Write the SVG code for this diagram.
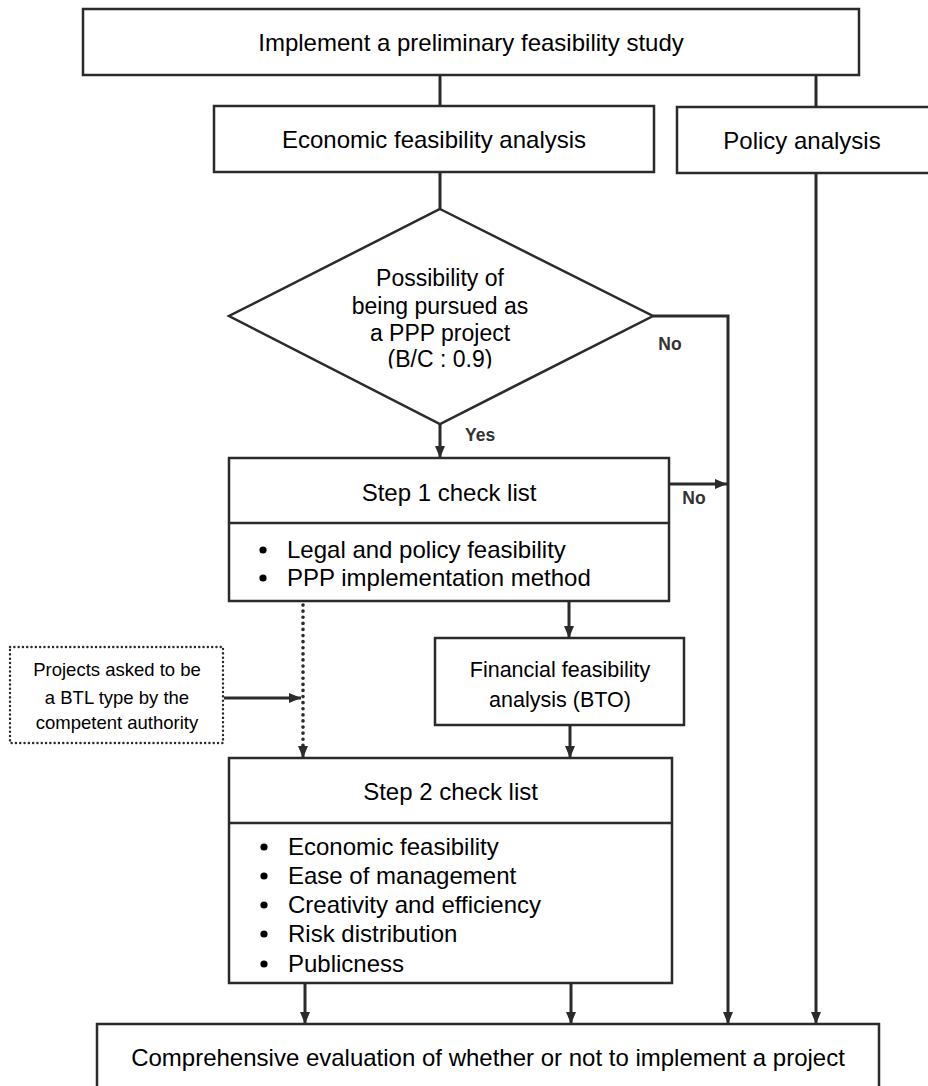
<svg xmlns="http://www.w3.org/2000/svg" width="928" height="1086" viewBox="0 0 928 1086">
<style>
.box{fill:#fff;stroke:#2b2b2b;stroke-width:2.5}
.dbox{fill:#fff;stroke:#2b2b2b;stroke-width:2.4;stroke-dasharray:0.1 4.2;stroke-linecap:round}
.t{font-family:"Liberation Sans",Arial,sans-serif;font-size:24px;fill:#000}
.c{text-anchor:middle}
.dt{font-size:23px}
.ft{font-size:21.5px}
.st{font-size:18.5px}
.lab{font-family:"Liberation Sans",Arial,sans-serif;font-size:17.5px;font-weight:bold;fill:#333}
.ln{fill:none;stroke:#2b2b2b;stroke-width:3}
.dl{fill:none;stroke:#2b2b2b;stroke-width:3.6;stroke-dasharray:0.1 6;stroke-linecap:round}
.bul{fill:#000}
</style>
<defs>
<marker id="ah" markerUnits="userSpaceOnUse" markerWidth="13" markerHeight="11" refX="12" refY="5" orient="auto">
<path d="M0,0 L12,5 L0,10 z" fill="#2b2b2b"/>
</marker>
<clipPath id="dclip"><rect x="0" y="0" width="928" height="368.5"/></clipPath>
</defs>

<g id="connectors">
<line class="ln" x1="440" y1="75" x2="440" y2="106"/>
<line class="ln" x1="816" y1="75" x2="816" y2="107"/>
<line class="ln" x1="440" y1="172" x2="440" y2="209"/>
<line class="ln" x1="440" y1="424" x2="440" y2="458" marker-end="url(#ah)"/>
<polyline class="ln" points="653,316 728,316 728,1024" marker-end="url(#ah)"/>
<line class="ln" x1="669" y1="484" x2="727" y2="484" marker-end="url(#ah)"/>
<line class="ln" x1="816" y1="173" x2="816" y2="1024" marker-end="url(#ah)"/>
<line class="ln" x1="569" y1="601" x2="569" y2="638" marker-end="url(#ah)"/>
<line class="ln" x1="570" y1="725" x2="570" y2="758" marker-end="url(#ah)"/>
<line class="dl" x1="303" y1="605" x2="303" y2="746"/>
<line class="ln" x1="303" y1="748" x2="303" y2="758" marker-end="url(#ah)"/>
<line class="ln" x1="224" y1="698" x2="301" y2="698" marker-end="url(#ah)"/>
<line class="ln" x1="305" y1="983" x2="305" y2="1024" marker-end="url(#ah)"/>
<line class="ln" x1="571" y1="983" x2="571" y2="1024" marker-end="url(#ah)"/>
<text class="lab" x="465" y="441">Yes</text>
<text class="lab" x="670" y="350" text-anchor="middle">No</text>
<text class="lab" x="694" y="504" text-anchor="middle">No</text>
</g>

<g id="n-prelim">
<rect class="box" x="83" y="9" width="776" height="66"/>
<text class="t c" x="471" y="51">Implement a preliminary feasibility study</text>
</g>

<g id="n-economic">
<rect class="box" x="214" y="106" width="440" height="66"/>
<text class="t c" x="434" y="147.6">Economic feasibility analysis</text>
</g>

<g id="n-policy">
<rect class="box" x="677" y="107" width="260" height="66"/>
<text class="t c" x="802" y="148.6">Policy analysis</text>
</g>

<g id="n-decision">
<polygon class="box" points="440,209 653,316 440,424 229,316"/>
<g clip-path="url(#dclip)">
<text class="t c dt" x="440" y="286.2">Possibility of</text>
<text class="t c dt" x="440" y="314.2">being pursued as</text>
<text class="t c dt" x="440" y="341.2">a PPP project</text>
<text class="t c dt" x="440" y="367.2">(B/C : 0.9)</text>
</g>
</g>

<g id="n-step1">
<rect class="box" x="229" y="458" width="440" height="143"/>
<line class="box" x1="229" y1="523" x2="669" y2="523"/>
<text class="t c" x="449" y="500.6">Step 1 check list</text>
<circle class="bul" cx="263" cy="550" r="3.6"/>
<text class="t" x="287" y="557.6">Legal and policy feasibility</text>
<circle class="bul" cx="263" cy="578" r="3.6"/>
<text class="t" x="287" y="585.6">PPP implementation method</text>
</g>

<g id="n-financial">
<rect class="box" x="435" y="638" width="249" height="87"/>
<text class="t c ft" x="560" y="676.7">Financial feasibility</text>
<text class="t c ft" x="560" y="706.7">analysis (BTO)</text>
</g>

<g id="n-btl">
<rect class="dbox" x="10" y="647" width="213" height="96"/>
<text class="t c st" x="117" y="675.6">Projects asked to be</text>
<text class="t c st" x="117" y="703.6">a BTL type by the</text>
<text class="t c st" x="117" y="728.6">competent authority</text>
</g>

<g id="n-step2">
<rect class="box" x="229" y="758" width="443" height="225"/>
<line class="box" x1="229" y1="823" x2="672" y2="823"/>
<text class="t c" x="450.5" y="799.6">Step 2 check list</text>
<circle class="bul" cx="264" cy="847" r="3.6"/>
<text class="t" x="288" y="854.6">Economic feasibility</text>
<circle class="bul" cx="264" cy="876" r="3.6"/>
<text class="t" x="288" y="883.6">Ease of management</text>
<circle class="bul" cx="264" cy="905" r="3.6"/>
<text class="t" x="288" y="912.6">Creativity and efficiency</text>
<circle class="bul" cx="264" cy="934" r="3.6"/>
<text class="t" x="288" y="941.6">Risk distribution</text>
<circle class="bul" cx="264" cy="964" r="3.6"/>
<text class="t" x="288" y="971.6">Publicness</text>
</g>

<g id="n-final">
<rect class="box" x="97" y="1024" width="782" height="80"/>
<text class="t c" x="488" y="1065.6">Comprehensive evaluation of whether or not to implement a project</text>
</g>
</svg>
